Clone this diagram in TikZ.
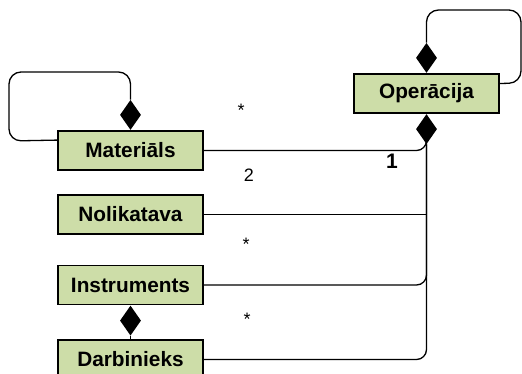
\documentclass[tikz,border=0pt]{standalone}
\usepackage{fontspec}
\setmainfont{Liberation Sans}
\usetikzlibrary{shapes.geometric}
\definecolor{classfill}{RGB}{205,221,168}
\begin{document}
\begin{tikzpicture}[x=1pt,y=-1pt,
  cls/.style={draw=black, line width=1.8pt, fill=classfill, minimum width=145pt,
    minimum height=39pt, inner sep=0pt,
    font=\fontsize{20.8}{24}\selectfont\bfseries},
  comp/.style={diamond, fill=black, draw=none, inner sep=0pt,
    minimum width=21pt, minimum height=30pt},
  conn/.style={draw=black, line width=1.3pt},
  mult/.style={inner sep=0pt, font=\fontsize{18}{20}\selectfont}]
  \clip (0,0) rectangle (522,374);
  \fill[white] (0,0) rectangle (522,374);

  % classes
  \node[cls] (op)   at (426.5,93.5)  {Operācija};
  \node[cls] (mat)  at (130.5,150.5) {Materiāls};
  \node[cls] (nol)  at (130.5,214.5) {Nolikatava};
  \node[cls] (ins)  at (130.5,285)   {Instruments};
  \node[cls] (darb) at (130.5,359.5) {Darbinieks};

  % composition diamonds
  \node[comp, anchor=south] (dmat) at (mat.north) {};
  \node[comp, anchor=south] (dop)  at (op.north) {};
  \node[comp, anchor=north] (dbus) at (op.south) {};
  \node[comp, anchor=north] (dins) at (ins.south) {};

  % self-associations
  \draw[conn, rounded corners=12pt] ([yshift=-10pt]mat.north west)
    -- (9,141) -- (9,72) -| (dmat.north);
  \draw[conn, rounded corners=12pt] (dop.north)
    |- (521,10) -- (521,83) -- ([yshift=10pt]op.east);

  % parts of an operation
  \draw[conn, rounded corners=10pt] (mat.east) -| (dbus.south);
  \draw[conn] (nol.east) -- (nol.east -| dbus.south);
  \draw[conn, rounded corners=10pt] (ins.east) -| (dbus.south);
  \draw[conn, rounded corners=10pt] (darb.east) -| (dbus.south);
  \draw[conn] (dins.south) -- (darb.north);

  % multiplicities
  \node[mult] (m1) at (241,110) {*};
  \node[mult] (m2) at (249,175) {2};
  \node[mult] (m3) at (246,244) {*};
  \node[mult] (m4) at (247,319) {*};
  \node[mult, font=\fontsize{21}{24}\selectfont\bfseries] (m5) at (392,161) {1};
\end{tikzpicture}
\end{document}
